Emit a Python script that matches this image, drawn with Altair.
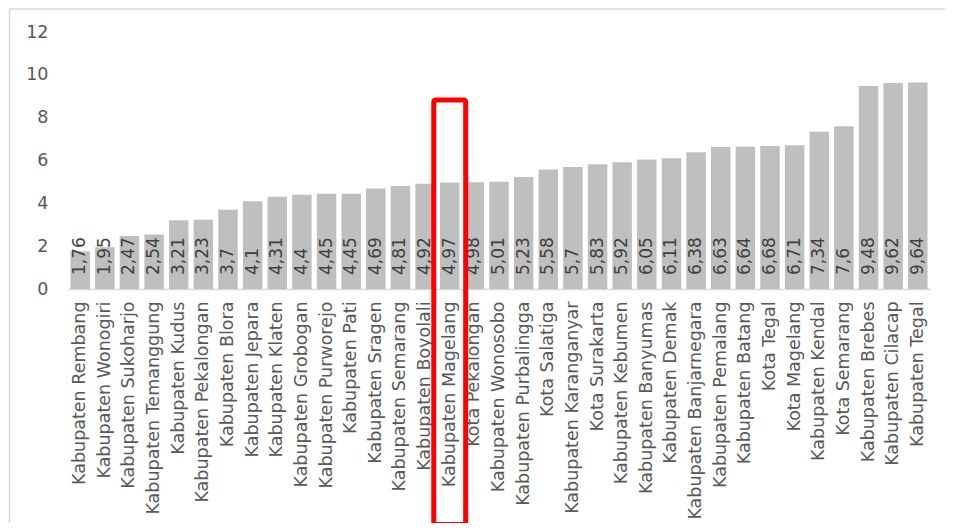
import altair as alt
import pandas as pd

regions = [
    "Kabupaten Rembang", "Kabupaten Wonogiri", "Kabupaten Sukoharjo", "Kabupaten Temanggung",
    "Kabupaten Kudus", "Kabupaten Pekalongan", "Kabupaten Blora", "Kabupaten Jepara",
    "Kabupaten Klaten", "Kabupaten Grobogan", "Kabupaten Purworejo", "Kabupaten Pati",
    "Kabupaten Sragen", "Kabupaten Semarang", "Kabupaten Boyolali", "Kabupaten Magelang",
    "Kota Pekalongan", "Kabupaten Wonosobo", "Kabupaten Purbalingga", "Kota Salatiga",
    "Kabupaten Karanganyar", "Kota Surakarta", "Kabupaten Kebumen", "Kabupaten Banyumas",
    "Kabupaten Demak", "Kabupaten Banjarnegara", "Kabupaten Pemalang", "Kabupaten Batang",
    "Kota Tegal", "Kota Magelang", "Kabupaten Kendal", "Kota Semarang",
    "Kabupaten Brebes", "Kabupaten Cilacap", "Kabupaten Tegal",
]
values = [
    1.76, 1.95, 2.47, 2.54, 3.21, 3.23, 3.7, 4.1, 4.31, 4.4, 4.45, 4.45,
    4.69, 4.81, 4.92, 4.97, 4.98, 5.01, 5.23, 5.58, 5.7, 5.83, 5.92, 6.05,
    6.11, 6.38, 6.63, 6.64, 6.68, 6.71, 7.34, 7.6, 9.48, 9.62, 9.64,
]
labels = [f"{v:g}".replace(".", ",") for v in values]

highlight_region = ["Kabupaten Magelang"]
highlight_top = [8.83]
highlight_bottom = [-11.0]

df = pd.DataFrame({"region": regions, "value": values, "label": labels})
hl = pd.DataFrame({"region": highlight_region, "top": highlight_top, "bottom": highlight_bottom})

FONT = "DejaVu Sans"

x = alt.X(
    "region:N", sort=regions, title=None,
    scale=alt.Scale(paddingInner=0.21, paddingOuter=0.1),
    axis=alt.Axis(labelAngle=-90, labelAlign="right", labelBaseline="middle",
                  labelFontSize=17.5, labelColor="#595959", labelFont=FONT,
                  labelPadding=12, ticks=False, domainColor="#d9d9d9",
                  domainWidth=1.5, labelLimit=400),
)
y = alt.Y(
    "value:Q", title=None,
    scale=alt.Scale(domain=[0, 12]),
    axis=alt.Axis(values=[0, 2, 4, 6, 8, 10, 12], grid=False, domain=False, ticks=False,
                  labelFontSize=17.5, labelColor="#595959", labelFont=FONT, labelPadding=20),
)

bars = alt.Chart(df).mark_bar(color="#bfbfbf").encode(x=x, y=y)

text = alt.Chart(df).mark_text(
    angle=270, align="left", baseline="middle", dx=14,
    font=FONT, fontSize=17, color="#404040",
).encode(x=alt.X("region:N", sort=regions), y=alt.datum(0), text="label:N")

box = alt.Chart(hl).mark_bar(
    width=alt.RelativeBandSize(1.64), fill=None, fillOpacity=0, stroke="#ff0000",
    strokeWidth=5, cornerRadius=2,
).encode(x=alt.X("region:N", sort=regions), y="top:Q", y2="bottom:Q")

frame = alt.Chart(hl).mark_rect(fill=None, fillOpacity=0, stroke="#d9d9d9", strokeWidth=1.5).encode(
    x=alt.value(-58.5), x2=alt.value(900), y=alt.value(-23), y2=alt.value(700)
)

chart = alt.layer(frame, bars, text, box).properties(
    width=862, height=257,
    autosize=alt.AutoSizeParams(type="none"),
    padding={"left": 60, "top": 24, "right": 15, "bottom": 234},
).configure(background="white").configure_view(stroke=None)

chart.save("out.html", embed_options={"renderer": "svg", "actions": False})
